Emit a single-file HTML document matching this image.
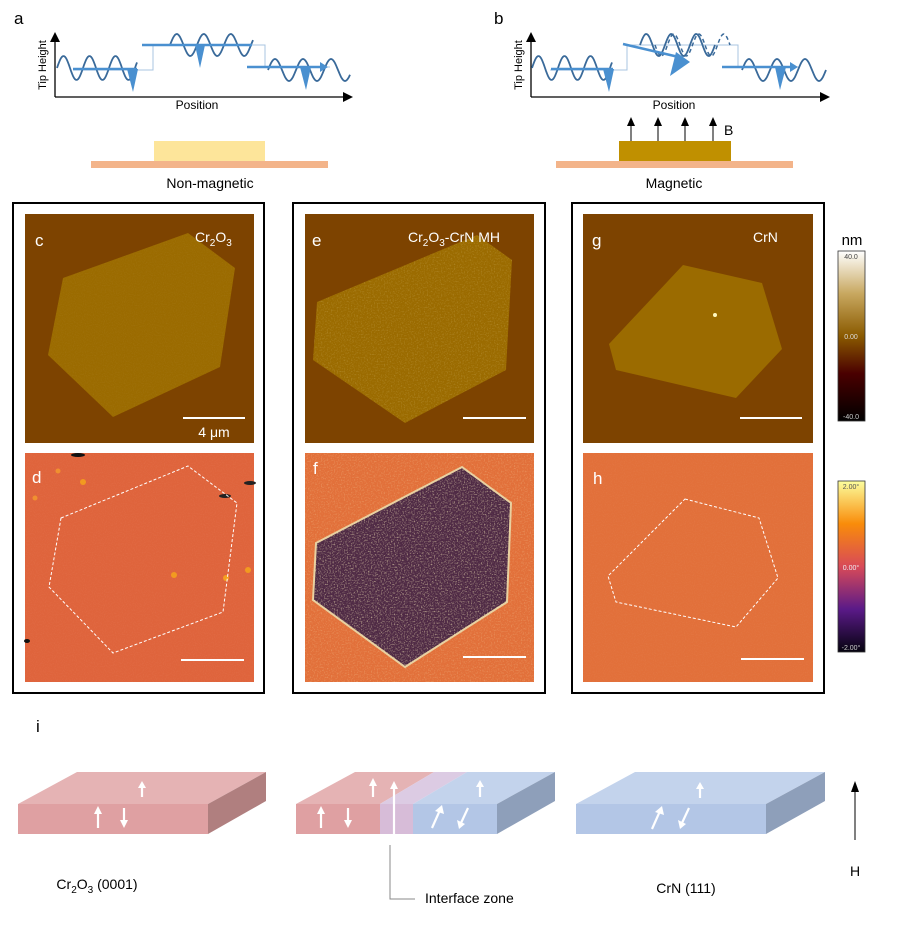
<!DOCTYPE html>
<html><head><meta charset="utf-8"><style>
html,body{margin:0;padding:0;background:#fff}
svg{display:block;font-family:"Liberation Sans",Arial,sans-serif}
</style></head><body>
<svg id="fig" width="899" height="925" viewBox="0 0 899 925" xmlns="http://www.w3.org/2000/svg">
<defs>
<linearGradient id="gnm" x1="0" y1="0" x2="0" y2="1">
<stop offset="0" stop-color="#ffffff"/><stop offset="0.25" stop-color="#c8a860"/><stop offset="0.5" stop-color="#8a5a00"/><stop offset="0.72" stop-color="#4a0000"/><stop offset="1" stop-color="#000000"/></linearGradient>
<linearGradient id="gph" x1="0" y1="0" x2="0" y2="1">
<stop offset="0" stop-color="#fcfe9e"/><stop offset="0.25" stop-color="#f98c0a"/><stop offset="0.5" stop-color="#d84a58"/><stop offset="0.75" stop-color="#5a1a88"/><stop offset="1" stop-color="#05030f"/></linearGradient>
<filter id="noise" x="0" y="0" width="1" height="1"><feTurbulence type="fractalNoise" baseFrequency="0.9" numOctaves="1" seed="3"/><feColorMatrix type="matrix" values="0 0 0 0 1  0 0 0 0 1  0 0 0 0 1  0 0 0 1.2 -0.55"/><feComposite operator="in" in2="SourceGraphic"/></filter>
<filter id="noise2" x="0" y="0" width="1" height="1"><feTurbulence type="fractalNoise" baseFrequency="0.7" numOctaves="2" seed="7"/><feColorMatrix type="matrix" values="0 0 0 0 0.95  0 0 0 0 0.85  0 0 0 0 0.5  0 0 0 2.2 -1.1"/><feComposite operator="in" in2="SourceGraphic"/></filter>
<clipPath id="cf"><rect x="305" y="453" width="229" height="229"/></clipPath>
</defs>

<!-- panel a -->
<g>
<text x="14" y="24" font-size="17">a</text>
<line x1="55" y1="97" x2="55" y2="42" stroke="#000" stroke-width="1.3"/><polygon points="50,42 60,42 55,32" fill="#000"/>
<line x1="55" y1="97" x2="343" y2="97" stroke="#000" stroke-width="1.3"/><polygon points="343,92 343,102 353,97" fill="#000"/>
<text x="46" y="65" font-size="11" transform="rotate(-90 46 65)" text-anchor="middle">Tip Height</text>
<text x="197" y="109" font-size="12" text-anchor="middle">Position</text>
<polyline points="73,70 153,70 153,45 265,45 265,67 330,67" fill="none" stroke="#a8c4e0" stroke-width="1"/>
<path class="wave" data-x0="57" data-x1="137" data-cy="68" data-a="12" data-p="26" fill="none" stroke="#3a6a9a" stroke-width="1.8"/>
<path class="wave" data-x0="170" data-x1="253" data-cy="45" data-a="11" data-p="27" fill="none" stroke="#3a6a9a" stroke-width="1.8"/>
<path class="wave" data-x0="268" data-x1="350" data-cy="70" data-a="11" data-p="28" fill="none" stroke="#3a6a9a" stroke-width="1.8"/>
<line x1="73" y1="69" x2="137" y2="69" stroke="#4a90d0" stroke-width="2.5"/><polygon points="127,69 138,69 133,92" fill="#4a90d0"/>
<line x1="142" y1="45" x2="252" y2="45" stroke="#4a90d0" stroke-width="2.5"/><polygon points="195,45 205,45 200,68" fill="#4a90d0"/>
<line x1="247" y1="67" x2="322" y2="67" stroke="#4a90d0" stroke-width="2.5"/><polygon points="320,62 320,72 328,67" fill="#4a90d0"/><polygon points="300,67 311,67 306,90" fill="#4a90d0"/>
<rect x="91" y="161" width="237" height="7" fill="#f3b48a"/>
<rect x="154" y="141" width="111" height="20" fill="#fde59a"/>
<text x="210" y="188" font-size="14" text-anchor="middle">Non-magnetic</text>
</g>

<!-- panel b -->
<g>
<text x="494" y="24" font-size="17">b</text>
<line x1="531" y1="97" x2="531" y2="42" stroke="#000" stroke-width="1.3"/><polygon points="526,42 536,42 531,32" fill="#000"/>
<line x1="531" y1="97" x2="820" y2="97" stroke="#000" stroke-width="1.3"/><polygon points="820,92 820,102 830,97" fill="#000"/>
<text x="522" y="65" font-size="11" transform="rotate(-90 522 65)" text-anchor="middle">Tip Height</text>
<text x="674" y="109" font-size="12" text-anchor="middle">Position</text>
<polyline points="550,70 627,70 627,45 738,45 738,67 800,67" fill="none" stroke="#a8c4e0" stroke-width="1"/>
<path class="wave" data-x0="532" data-x1="612" data-cy="68" data-a="12" data-p="26" fill="none" stroke="#3a6a9a" stroke-width="1.8"/>
<path class="wave" data-x0="640" data-x1="715" data-cy="45" data-a="11" data-p="25" fill="none" stroke="#3a6a9a" stroke-width="1.8"/>
<path class="wave" data-x0="655" data-x1="730" data-cy="45" data-a="11" data-p="25" data-ph="3.14" fill="none" stroke="#3a6a9a" stroke-width="1.5" stroke-dasharray="4,3"/>
<path class="wave" data-x0="742" data-x1="826" data-cy="70" data-a="11" data-p="28" fill="none" stroke="#3a6a9a" stroke-width="1.8"/>
<line x1="551" y1="69" x2="613" y2="69" stroke="#4a90d0" stroke-width="2.5"/><polygon points="603,69 614,69 609,92" fill="#4a90d0"/>
<line x1="623" y1="44" x2="683" y2="58" stroke="#4a90d0" stroke-width="2.5"/><polygon points="676,52 690,62 670,76" fill="#4a90d0"/>
<line x1="722" y1="67" x2="792" y2="67" stroke="#4a90d0" stroke-width="2.5"/><polygon points="790,62 790,72 798,67" fill="#4a90d0"/><polygon points="775,67 786,67 780,90" fill="#4a90d0"/>
<rect x="556" y="161" width="237" height="7" fill="#f3b48a"/>
<rect x="619" y="141" width="112" height="20" fill="#c09000"/>
<g stroke="#000" stroke-width="1">
<line x1="631" y1="141" x2="631" y2="124"/><line x1="658" y1="141" x2="658" y2="124"/><line x1="685" y1="141" x2="685" y2="124"/><line x1="713" y1="141" x2="713" y2="124"/></g>
<g fill="#000"><polygon points="627,126 635,126 631,117"/><polygon points="654,126 662,126 658,117"/><polygon points="681,126 689,126 685,117"/><polygon points="709,126 717,126 713,117"/></g>
<text x="724" y="135" font-size="14">B</text>
<text x="674" y="188" font-size="14" text-anchor="middle">Magnetic</text>
</g>

<!-- frames -->
<rect x="13" y="203" width="251" height="490" fill="none" stroke="#000" stroke-width="2"/>
<rect x="293" y="203" width="252" height="490" fill="none" stroke="#000" stroke-width="2"/>
<rect x="572" y="203" width="252" height="490" fill="none" stroke="#000" stroke-width="2"/>

<!-- c -->
<g>
<rect x="25" y="214" width="229" height="229" fill="#7d4300"/>
<polygon points="63,278 188,233 235,268 220,367 113,417 48,355" fill="#9b6b00"/>
<polygon points="63,278 188,233 235,268 220,367 113,417 48,355" fill="#fff" filter="url(#noise)" opacity="0.1"/>
<text x="35" y="246" font-size="17" fill="#fff">c</text>
<text x="195" y="242" font-size="14" fill="#fff">Cr<tspan font-size="10" dy="4">2</tspan><tspan dy="-4">O</tspan><tspan font-size="10" dy="4">3</tspan></text>
<rect x="183" y="417" width="62" height="2" fill="#fff"/>
<text x="214" y="437" font-size="14" fill="#fff" text-anchor="middle">4 μm</text>
</g>
<!-- d -->
<g>
<rect x="25" y="453" width="229" height="229" fill="#df643c"/>
<rect x="25" y="453" width="229" height="229" fill="#fff" filter="url(#noise)" opacity="0.1"/>
<ellipse cx="78" cy="455" rx="7" ry="2" fill="#111"/><ellipse cx="225" cy="496" rx="6" ry="2" fill="#222"/><ellipse cx="250" cy="483" rx="6" ry="2" fill="#222"/><ellipse cx="27" cy="641" rx="3" ry="2" fill="#111"/>
<circle cx="83" cy="482" r="3" fill="#f29a20"/><circle cx="174" cy="575" r="3" fill="#f29a20"/><circle cx="226" cy="578" r="3" fill="#f5a020"/><circle cx="248" cy="570" r="3" fill="#f29a20"/><circle cx="35" cy="498" r="2.5" fill="#f09030"/><circle cx="58" cy="471" r="2.5" fill="#f09030"/>
<polygon points="61,518 188,466 237,503 223,612 113,653 49,587" fill="none" stroke="#fff" stroke-width="1" stroke-dasharray="3,2"/>
<text x="32" y="483" font-size="17" fill="#fff">d</text>
<rect x="181" y="659" width="63" height="2" fill="#fff"/>
</g>
<!-- e -->
<g>
<rect x="305" y="214" width="229" height="229" fill="#7d4300"/>
<polygon points="317,302 477,235 512,260 506,370 405,423 313,360" fill="#9b6b00"/>
<polygon points="317,302 477,235 512,260 506,370 405,423 313,360" fill="#fff" filter="url(#noise2)" opacity="0.25"/>
<text x="312" y="246" font-size="17" fill="#fff">e</text>
<text x="408" y="242" font-size="14" fill="#fff">Cr<tspan font-size="10" dy="4">2</tspan><tspan dy="-4">O</tspan><tspan font-size="10" dy="4">3</tspan><tspan dy="-4">-CrN MH</tspan></text>
<rect x="463" y="417" width="63" height="2" fill="#fff"/>
</g>
<!-- f -->
<g clip-path="url(#cf)">
<rect x="305" y="453" width="229" height="229" fill="#e2703a"/>
<rect x="305" y="453" width="229" height="229" fill="#fff" filter="url(#noise2)" opacity="0.35"/>
<polygon points="316,543 462,467 511,503 507,602 405,667 313,600" fill="#4f2a45" stroke="#e8d0a0" stroke-width="2"/>
<polygon points="316,543 462,467 511,503 507,602 405,667 313,600" fill="#fff" filter="url(#noise2)" opacity="0.8"/>
<text x="313" y="474" font-size="17" fill="#fff">f</text>
<rect x="463" y="656" width="63" height="2" fill="#fff"/>
</g>
<!-- g -->
<g>
<rect x="583" y="214" width="230" height="229" fill="#7d4300"/>
<polygon points="683,265 762,283 782,349 736,398 616,370 609,344" fill="#9b6b00"/>
<circle cx="715" cy="315" r="2" fill="#fff8c0"/>
<text x="592" y="246" font-size="17" fill="#fff">g</text>
<text x="753" y="242" font-size="14" fill="#fff">CrN</text>
<rect x="740" y="417" width="62" height="2" fill="#fff"/>
</g>
<!-- h -->
<g>
<rect x="583" y="453" width="230" height="229" fill="#e2703a"/>
<rect x="583" y="453" width="230" height="229" fill="#fff" filter="url(#noise)" opacity="0.1"/>
<polygon points="685,499 759,518 778,578 736,627 616,602 608,576" fill="none" stroke="#fff" stroke-width="1" stroke-dasharray="3,2"/>
<text x="593" y="484" font-size="17" fill="#fff">h</text>
<rect x="741" y="658" width="63" height="2" fill="#fff"/>
</g>

<!-- colorbars -->
<g>
<text x="852" y="245" font-size="15" text-anchor="middle">nm</text>
<rect x="838" y="251" width="27" height="170" fill="url(#gnm)" stroke="#333" stroke-width="0.8"/>
<text x="851" y="259" font-size="7" text-anchor="middle" fill="#444">40.0</text>
<text x="851" y="339" font-size="7" text-anchor="middle" fill="#ddd">0.00</text>
<text x="851" y="419" font-size="7" text-anchor="middle" fill="#ccc">-40.0</text>
</g>
<g>
<rect x="838" y="481" width="27" height="171" fill="url(#gph)" stroke="#333" stroke-width="0.8"/>
<text x="851" y="489" font-size="7" text-anchor="middle" fill="#555">2.00°</text>
<text x="851" y="570" font-size="7" text-anchor="middle" fill="#eee">0.00°</text>
<text x="851" y="650" font-size="7" text-anchor="middle" fill="#ccc">-2.00°</text>
</g>

<!-- panel i -->
<g>
<text x="36" y="732" font-size="17">i</text>
<g>
<polygon points="18,804 77,772 266,772 208,804" fill="#e5b3b4"/>
<polygon points="208,804 266,772 266,801 208,834" fill="#b07f7f"/>
<rect x="18" y="804" width="190" height="30" fill="#dfa0a2"/>
</g>
<g>
<polygon points="296,804 355,772 434,772 380,804" fill="#e5b3b4"/>
<polygon points="380,804 434,772 467,772 413,804" fill="#dccbe3"/>
<polygon points="413,804 467,772 555,772 497,804" fill="#c3d3ec"/>
<polygon points="497,804 555,772 555,801 497,834" fill="#8e9fba"/>
<rect x="296" y="804" width="84" height="30" fill="#dfa0a2"/>
<rect x="380" y="804" width="33" height="30" fill="#d7bcd8"/>
<rect x="413" y="804" width="84" height="30" fill="#b3c6e6"/>
</g>
<g>
<polygon points="576,804 635,772 825,772 766,804" fill="#c3d3ec"/>
<polygon points="766,804 825,772 825,801 766,834" fill="#8e9fba"/>
<rect x="576" y="804" width="190" height="30" fill="#b3c6e6"/>
</g>
<g stroke="#fff" stroke-width="2.2" fill="#fff">
<line x1="142" y1="797" x2="142" y2="786"/><polygon points="138,788 146,788 142,781" stroke="none"/>
<line x1="98" y1="828" x2="98" y2="812"/><polygon points="94,814 102,814 98,806" stroke="none"/>
<line x1="124" y1="808" x2="124" y2="822"/><polygon points="120,820 128,820 124,828" stroke="none"/>
<line x1="373" y1="797" x2="373" y2="784"/><polygon points="369,786 377,786 373,778" stroke="none"/>
<line x1="321" y1="828" x2="321" y2="812"/><polygon points="317,814 325,814 321,806" stroke="none"/>
<line x1="348" y1="808" x2="348" y2="822"/><polygon points="344,820 352,820 348,828" stroke="none"/>
<line x1="394" y1="845" x2="394" y2="787"/><polygon points="390,789 398,789 394,781" stroke="none"/>
<line x1="480" y1="797" x2="480" y2="785"/><polygon points="476,787 484,787 480,780" stroke="none"/>
<line x1="432" y1="828" x2="440" y2="810"/><polygon points="435,811 444,814 442,805" stroke="none"/>
<line x1="468" y1="808" x2="461" y2="823"/><polygon points="457,820 465,824 459,829" stroke="none"/>
<line x1="700" y1="798" x2="700" y2="787"/><polygon points="696,789 704,789 700,782" stroke="none"/>
<line x1="652" y1="829" x2="660" y2="811"/><polygon points="655,812 664,815 662,806" stroke="none"/>
<line x1="689" y1="808" x2="682" y2="823"/><polygon points="678,820 686,824 680,829" stroke="none"/>
</g>
<line x1="855" y1="840" x2="855" y2="790" stroke="#000" stroke-width="1"/><polygon points="851,792 859,792 855,781" fill="#000"/>
<text x="855" y="876" font-size="14" text-anchor="middle">H</text>
<text x="97" y="889" font-size="14" text-anchor="middle">Cr<tspan font-size="10" dy="4">2</tspan><tspan dy="-4">O</tspan><tspan font-size="10" dy="4">3</tspan><tspan dy="-4"> (0001)</tspan></text>
<polyline points="390,845 390,899 415,899" fill="none" stroke="#888" stroke-width="1"/>
<text x="425" y="903" font-size="14">Interface zone</text>
<text x="686" y="893" font-size="14" text-anchor="middle">CrN (111)</text>
</g>
</svg>
<script>
document.querySelectorAll('path.wave').forEach(function(p){
  var x0=+p.dataset.x0,x1=+p.dataset.x1,cy=+p.dataset.cy,a=+p.dataset.a,per=+p.dataset.p,ph=+(p.dataset.ph||0);
  var d='';
  for(var x=x0;x<=x1;x+=1){var y=cy-a*Math.sin((x-x0)/per*2*Math.PI+ph);d+=(x===x0?'M':'L')+x+','+y.toFixed(1);}
  p.setAttribute('d',d);
});
</script>
</body></html>
